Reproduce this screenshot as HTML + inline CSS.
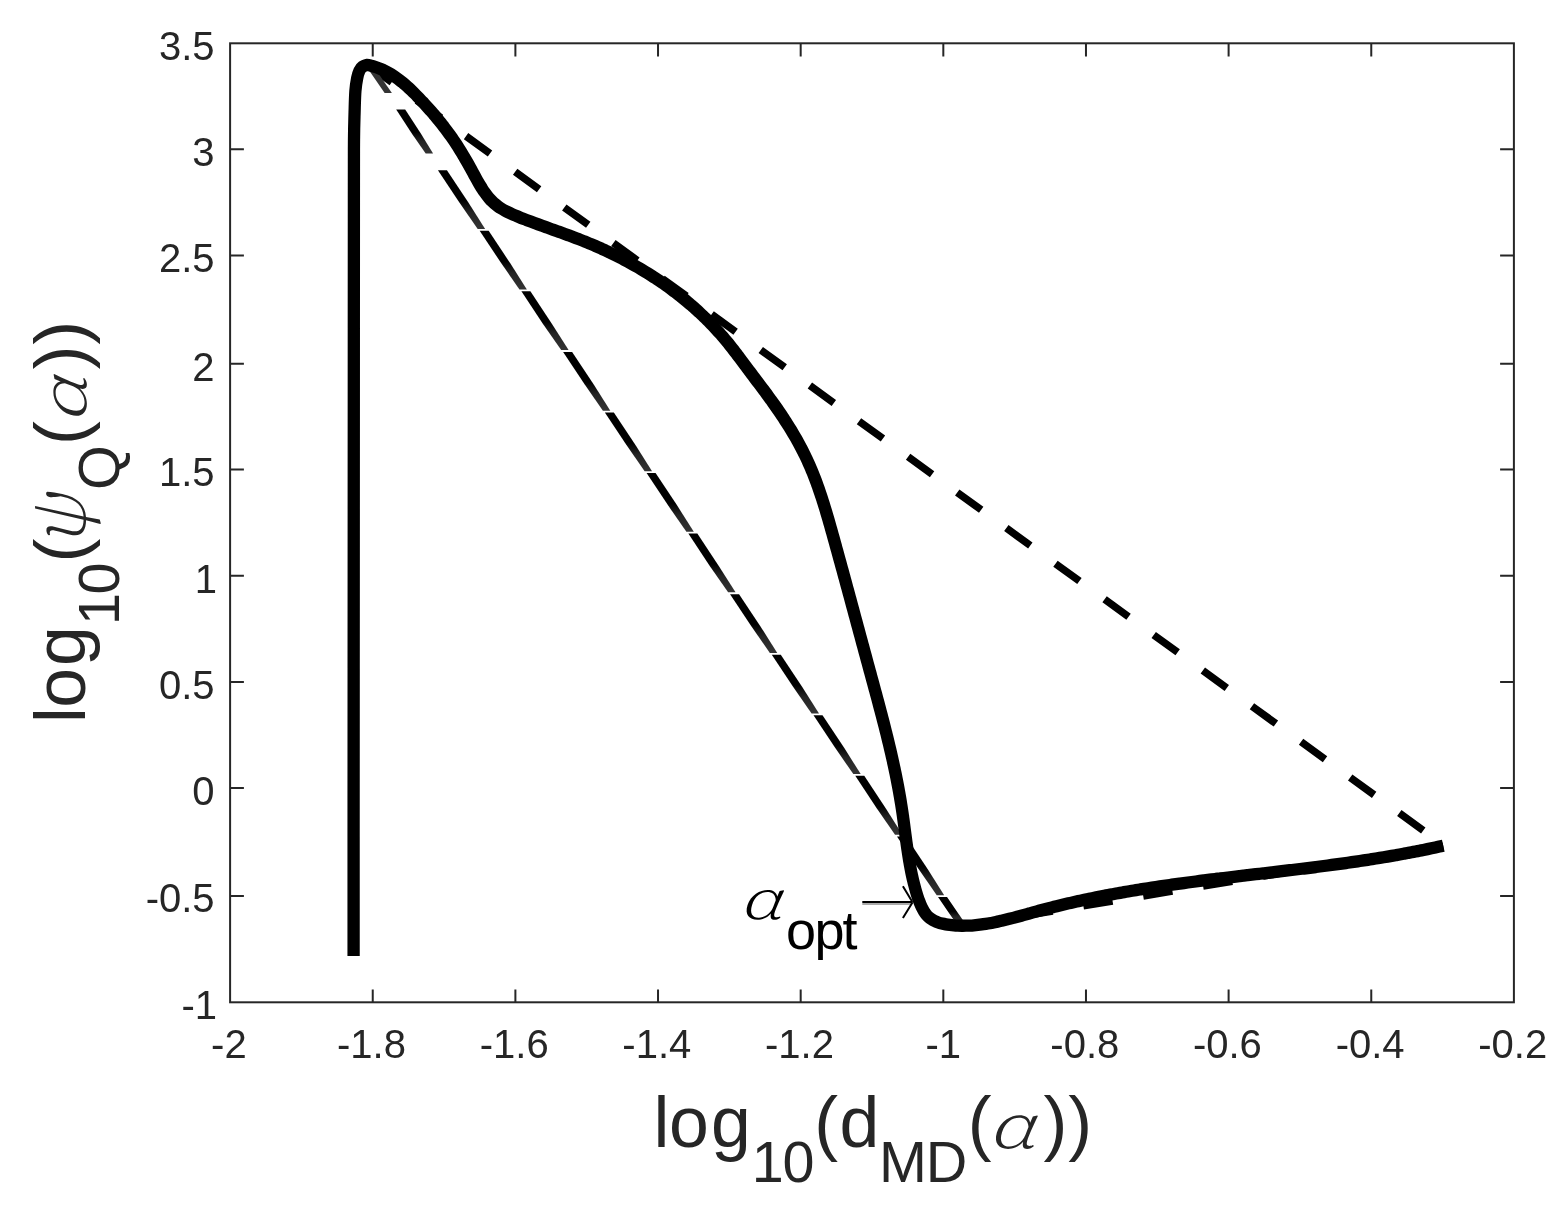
<!DOCTYPE html>
<html lang="en"><head><meta charset="utf-8"><title>L-curve plot</title>
<style>
html,body{margin:0;padding:0;background:#fff;}
body{width:1568px;height:1211px;overflow:hidden;}
svg{display:block;}
.t{font-family:"Liberation Sans",sans-serif;font-size:40.0px;fill:#262626;}
.l{font-family:"Liberation Sans",sans-serif;font-size:71.6px;fill:#262626;}
.s{font-size:57.5px;}
.g{font-family:"Noto Serif CJK SC","Liberation Serif",serif;font-style:italic;font-weight:200;}
.a{font-family:"Liberation Sans",sans-serif;font-size:54px;fill:#000;}
</style></head><body>
<svg width="1568" height="1211" viewBox="0 0 1568 1211">
<rect width="1568" height="1211" fill="#fff"/>
<g fill="none" stroke="#000">
<path d="M367.80,64.90 L1443.30,845.00" stroke-width="7.5" stroke-dasharray="29.6 31.08"/>
<path d="M962.00,926.00 L1443.30,846.20" stroke-width="7.5" stroke-dasharray="29.6 31.08" stroke-dashoffset="59.02"/>
</g>
<defs><linearGradient id="tg" x1="0" y1="0" x2="0" y2="1"><stop offset="0" stop-color="#000"/><stop offset="0.52" stop-color="#000"/><stop offset="0.72" stop-color="#242424"/><stop offset="1" stop-color="#343434"/></linearGradient></defs>
<g fill="url(#tg)">
<polygon fill="#343434" points="366.06,66.00 373.26,66.00 391.86,93.00 384.66,93.00"/>
<polygon points="396.20,109.60 405.20,109.60 420.97,133.69 433.08,153.40 425.68,153.40 411.97,133.69"/>
<polygon points="437.93,170.17 446.93,170.17 468.38,202.49 485.12,228.94 477.72,228.94 459.38,202.49"/>
<polygon points="479.66,230.74 488.66,230.74 510.11,263.06 526.86,289.51 519.46,289.51 501.11,263.06"/>
<polygon points="521.40,291.31 530.40,291.31 551.84,323.63 568.59,350.08 561.19,350.08 542.84,323.63"/>
<polygon points="563.13,351.88 572.13,351.88 593.58,384.20 610.32,410.65 602.92,410.65 584.58,384.20"/>
<polygon points="604.86,412.45 613.86,412.45 635.31,444.77 652.05,471.22 644.65,471.22 626.31,444.77"/>
<polygon points="646.59,473.02 655.59,473.02 677.04,505.34 693.79,531.79 686.39,531.79 668.04,505.34"/>
<polygon points="688.33,533.59 697.33,533.59 718.77,565.91 735.52,592.36 728.12,592.36 709.77,565.91"/>
<polygon points="730.06,594.16 739.06,594.16 760.51,626.48 777.25,652.93 769.85,652.93 751.51,626.48"/>
<polygon points="771.79,654.73 780.79,654.73 802.24,687.05 818.99,713.50 811.59,713.50 793.24,687.05"/>
<polygon points="813.53,715.30 822.53,715.30 843.97,747.62 860.72,774.07 853.32,774.07 834.97,747.62"/>
<polygon points="855.26,775.87 864.26,775.87 885.70,808.19 902.45,834.64 895.05,834.64 876.70,808.19"/>
<polygon points="896.99,836.44 905.99,836.44 927.44,868.76 944.18,895.21 936.78,895.21 918.44,868.76"/>
<polygon points="938.02,897.01 947.02,897.01 957.44,912.13 965.96,924.50 956.96,924.50 948.44,912.13"/>
</g>
<path d="M353.60,955.90 C353.60,929.92 353.58,859.32 353.60,800.00 C353.62,740.68 353.67,666.67 353.70,600.00 C353.73,533.33 353.77,466.67 353.80,400.00 C353.83,333.33 353.87,243.33 353.90,200.00 C353.93,156.67 353.88,154.67 354.00,140.00 C354.12,125.33 354.37,120.17 354.60,112.00 C354.83,103.83 354.97,96.67 355.40,91.00 C355.83,85.33 356.52,81.42 357.20,78.00 C357.88,74.58 358.62,72.38 359.50,70.50 C360.38,68.62 361.25,67.63 362.50,66.70 C363.75,65.77 366.25,65.20 367.00,64.90 C368.42,64.74 369.72,65.43 371.05,65.76 C372.38,66.08 373.68,66.45 374.97,66.86 C376.26,67.26 377.53,67.70 378.78,68.18 C380.03,68.66 381.26,69.17 382.47,69.72 C383.68,70.26 384.88,70.84 386.06,71.45 C387.24,72.06 388.40,72.70 389.54,73.36 C390.69,74.03 391.82,74.73 392.94,75.45 C394.05,76.17 395.15,76.91 396.24,77.68 C397.33,78.45 398.40,79.24 399.46,80.06 C400.52,80.87 401.57,81.70 402.61,82.55 C403.65,83.41 404.67,84.28 405.69,85.16 C406.70,86.05 407.70,86.95 408.70,87.87 C409.69,88.78 410.68,89.71 411.65,90.65 C412.63,91.59 413.60,92.54 414.56,93.50 C415.52,94.46 416.47,95.43 417.42,96.41 C418.36,97.38 419.30,98.36 420.23,99.35 C421.17,100.33 422.10,101.32 423.02,102.31 C423.94,103.30 424.86,104.30 425.77,105.30 C426.68,106.30 427.59,107.30 428.48,108.30 C429.38,109.31 430.28,110.32 431.16,111.34 C432.05,112.35 432.93,113.37 433.81,114.39 C434.68,115.41 435.55,116.44 436.41,117.47 C437.27,118.51 438.12,119.54 438.97,120.58 C439.81,121.62 440.65,122.67 441.49,123.72 C442.32,124.77 443.14,125.83 443.96,126.89 C444.78,127.95 445.59,129.01 446.39,130.08 C447.19,131.15 447.99,132.23 448.77,133.31 C449.56,134.39 450.34,135.48 451.11,136.57 C451.88,137.67 452.64,138.76 453.40,139.87 C454.15,140.97 454.89,142.08 455.63,143.20 C456.37,144.32 457.10,145.44 457.82,146.57 C458.54,147.69 459.25,148.83 459.96,149.97 C460.67,151.11 461.37,152.25 462.06,153.40 C462.76,154.55 463.45,155.71 464.13,156.87 C464.82,158.03 465.50,159.20 466.17,160.37 C466.85,161.55 467.52,162.73 468.19,163.91 C468.86,165.09 469.52,166.28 470.18,167.48 C470.85,168.67 471.51,169.87 472.16,171.08 C472.82,172.28 473.48,173.50 474.13,174.71 C474.79,175.92 475.45,177.13 476.12,178.34 C476.78,179.55 477.45,180.75 478.13,181.95 C478.81,183.14 479.50,184.33 480.20,185.50 C480.91,186.67 481.62,187.83 482.35,188.97 C483.08,190.10 483.83,191.23 484.60,192.32 C485.37,193.42 486.16,194.50 486.98,195.54 C487.79,196.58 488.63,197.60 489.50,198.59 C490.37,199.57 491.26,200.52 492.19,201.44 C493.12,202.35 494.08,203.22 495.07,204.06 C496.06,204.89 497.10,205.68 498.15,206.44 C499.21,207.19 500.31,207.91 501.42,208.60 C502.53,209.28 503.68,209.94 504.84,210.57 C505.99,211.20 507.18,211.80 508.38,212.38 C509.57,212.97 510.79,213.53 512.01,214.07 C513.23,214.62 514.47,215.15 515.71,215.67 C516.96,216.19 518.21,216.69 519.46,217.19 C520.71,217.70 521.96,218.19 523.21,218.68 C524.47,219.18 525.72,219.66 526.98,220.14 C528.23,220.63 529.49,221.10 530.75,221.58 C532.01,222.05 533.27,222.52 534.53,222.99 C535.79,223.46 537.05,223.92 538.32,224.39 C539.58,224.85 540.84,225.31 542.11,225.77 C543.37,226.23 544.63,226.68 545.90,227.14 C547.16,227.59 548.43,228.05 549.69,228.50 C550.96,228.95 552.22,229.41 553.49,229.86 C554.75,230.31 556.01,230.77 557.28,231.22 C558.54,231.68 559.81,232.13 561.07,232.59 C562.33,233.05 563.60,233.51 564.86,233.97 C566.12,234.43 567.38,234.89 568.64,235.35 C569.90,235.82 571.16,236.29 572.42,236.76 C573.67,237.23 574.93,237.71 576.19,238.19 C577.44,238.67 578.70,239.15 579.95,239.64 C581.20,240.12 582.45,240.62 583.70,241.11 C584.95,241.61 586.20,242.12 587.44,242.63 C588.69,243.13 589.93,243.65 591.17,244.17 C592.41,244.69 593.65,245.22 594.89,245.75 C596.12,246.29 597.36,246.82 598.59,247.37 C599.82,247.91 601.05,248.47 602.28,249.02 C603.51,249.58 604.73,250.14 605.95,250.71 C607.17,251.28 608.39,251.86 609.61,252.44 C610.83,253.02 612.04,253.60 613.25,254.20 C614.46,254.79 615.67,255.39 616.88,255.99 C618.08,256.60 619.28,257.21 620.48,257.83 C621.68,258.44 622.88,259.07 624.07,259.70 C625.27,260.33 626.46,260.96 627.64,261.60 C628.83,262.24 630.01,262.89 631.19,263.55 C632.37,264.20 633.55,264.86 634.72,265.52 C635.89,266.19 637.06,266.86 638.23,267.54 C639.39,268.22 640.55,268.90 641.71,269.59 C642.87,270.28 644.02,270.98 645.17,271.68 C646.32,272.38 647.47,273.09 648.61,273.80 C649.75,274.52 650.89,275.24 652.03,275.97 C653.16,276.69 654.29,277.43 655.42,278.17 C656.54,278.90 657.66,279.65 658.78,280.40 C659.90,281.15 661.01,281.91 662.12,282.67 C663.22,283.44 664.33,284.21 665.43,284.98 C666.52,285.76 667.62,286.54 668.71,287.33 C669.80,288.12 670.88,288.92 671.96,289.72 C673.04,290.52 674.12,291.32 675.19,292.14 C676.25,292.95 677.32,293.77 678.38,294.60 C679.44,295.42 680.49,296.26 681.54,297.09 C682.59,297.93 683.63,298.78 684.67,299.63 C685.71,300.48 686.74,301.34 687.77,302.20 C688.80,303.06 689.82,303.93 690.84,304.81 C691.85,305.69 692.87,306.57 693.87,307.46 C694.88,308.35 695.87,309.24 696.87,310.14 C697.86,311.04 698.85,311.95 699.83,312.87 C700.81,313.78 701.79,314.70 702.76,315.63 C703.73,316.55 704.69,317.49 705.65,318.43 C706.60,319.37 707.56,320.31 708.50,321.26 C709.45,322.22 710.38,323.18 711.32,324.14 C712.25,325.10 713.17,326.08 714.09,327.05 C715.01,328.03 715.92,329.02 716.83,330.01 C717.73,331.00 718.63,331.99 719.52,333.00 C720.42,334.00 721.30,335.01 722.18,336.03 C723.06,337.04 723.93,338.07 724.79,339.09 C725.66,340.12 726.51,341.16 727.36,342.20 C728.22,343.24 729.06,344.29 729.90,345.34 C730.74,346.39 731.57,347.45 732.40,348.51 C733.23,349.57 734.05,350.63 734.87,351.70 C735.70,352.77 736.51,353.84 737.33,354.91 C738.14,355.98 738.95,357.06 739.76,358.13 C740.57,359.21 741.37,360.29 742.18,361.36 C742.99,362.44 743.79,363.52 744.59,364.60 C745.40,365.68 746.20,366.75 747.00,367.83 C747.81,368.91 748.61,369.98 749.41,371.06 C750.22,372.13 751.03,373.20 751.83,374.27 C752.64,375.34 753.44,376.41 754.25,377.48 C755.06,378.55 755.87,379.62 756.67,380.69 C757.48,381.75 758.29,382.82 759.09,383.89 C759.90,384.96 760.70,386.03 761.50,387.10 C762.31,388.17 763.11,389.24 763.91,390.31 C764.71,391.39 765.51,392.46 766.31,393.54 C767.10,394.61 767.90,395.69 768.69,396.78 C769.48,397.86 770.27,398.94 771.06,400.03 C771.84,401.12 772.62,402.21 773.40,403.31 C774.18,404.41 774.96,405.51 775.73,406.61 C776.50,407.71 777.27,408.82 778.04,409.93 C778.80,411.04 779.56,412.15 780.31,413.27 C781.07,414.39 781.82,415.51 782.56,416.64 C783.31,417.76 784.05,418.89 784.79,420.03 C785.52,421.16 786.25,422.30 786.97,423.44 C787.70,424.58 788.42,425.72 789.13,426.87 C789.84,428.02 790.55,429.17 791.25,430.32 C791.95,431.48 792.64,432.64 793.33,433.80 C794.01,434.96 794.69,436.13 795.36,437.30 C796.04,438.47 796.70,439.64 797.36,440.82 C798.02,442.00 798.67,443.18 799.31,444.37 C799.95,445.55 800.58,446.74 801.21,447.93 C801.83,449.13 802.45,450.32 803.06,451.52 C803.67,452.72 804.27,453.93 804.86,455.13 C805.45,456.34 806.03,457.55 806.60,458.77 C807.17,459.98 807.74,461.20 808.29,462.43 C808.84,463.65 809.38,464.88 809.92,466.11 C810.45,467.34 810.98,468.57 811.49,469.81 C812.01,471.05 812.52,472.29 813.02,473.53 C813.52,474.77 814.01,476.02 814.50,477.27 C814.98,478.52 815.46,479.77 815.93,481.03 C816.40,482.28 816.86,483.54 817.31,484.80 C817.77,486.06 818.22,487.33 818.66,488.59 C819.10,489.86 819.54,491.13 819.97,492.40 C820.40,493.67 820.83,494.94 821.25,496.22 C821.67,497.49 822.08,498.77 822.49,500.05 C822.90,501.32 823.31,502.61 823.71,503.89 C824.11,505.17 824.51,506.45 824.90,507.74 C825.29,509.02 825.68,510.31 826.07,511.60 C826.45,512.89 826.83,514.18 827.21,515.47 C827.59,516.76 827.97,518.05 828.34,519.34 C828.72,520.64 829.09,521.93 829.46,523.22 C829.83,524.52 830.19,525.81 830.56,527.11 C830.93,528.41 831.29,529.70 831.65,531.00 C832.02,532.30 832.38,533.59 832.74,534.89 C833.10,536.19 833.46,537.49 833.83,538.78 C834.19,540.08 834.55,541.38 834.91,542.68 C835.27,543.97 835.63,545.27 835.99,546.57 C836.35,547.87 836.70,549.17 837.06,550.47 C837.42,551.76 837.78,553.06 838.14,554.36 C838.50,555.66 838.85,556.96 839.21,558.26 C839.57,559.56 839.92,560.86 840.28,562.15 C840.64,563.45 840.99,564.75 841.35,566.05 C841.71,567.35 842.06,568.65 842.42,569.95 C842.77,571.25 843.13,572.55 843.48,573.85 C843.84,575.15 844.19,576.45 844.55,577.75 C844.90,579.05 845.25,580.35 845.61,581.65 C845.96,582.95 846.32,584.25 846.67,585.55 C847.02,586.84 847.38,588.14 847.73,589.44 C848.08,590.74 848.44,592.04 848.79,593.34 C849.14,594.64 849.49,595.94 849.85,597.24 C850.20,598.54 850.55,599.84 850.90,601.14 C851.25,602.44 851.61,603.74 851.96,605.04 C852.31,606.34 852.66,607.64 853.01,608.94 C853.37,610.24 853.72,611.54 854.07,612.84 C854.42,614.14 854.77,615.44 855.12,616.74 C855.47,618.04 855.82,619.34 856.18,620.64 C856.53,621.94 856.88,623.24 857.23,624.54 C857.58,625.84 857.93,627.14 858.28,628.44 C858.63,629.74 858.98,631.04 859.33,632.34 C859.69,633.64 860.04,634.94 860.39,636.24 C860.74,637.54 861.09,638.84 861.44,640.13 C861.79,641.43 862.14,642.73 862.49,644.03 C862.84,645.33 863.20,646.63 863.55,647.93 C863.90,649.23 864.25,650.52 864.60,651.82 C864.95,653.12 865.30,654.42 865.66,655.72 C866.01,657.02 866.36,658.31 866.71,659.61 C867.06,660.91 867.41,662.21 867.77,663.51 C868.12,664.80 868.47,666.10 868.82,667.40 C869.17,668.70 869.53,669.99 869.88,671.29 C870.23,672.59 870.59,673.89 870.94,675.18 C871.29,676.48 871.64,677.78 872.00,679.07 C872.35,680.37 872.70,681.67 873.05,682.96 C873.41,684.26 873.76,685.56 874.11,686.85 C874.46,688.15 874.81,689.44 875.16,690.74 C875.52,692.04 875.87,693.33 876.22,694.63 C876.57,695.93 876.91,697.23 877.26,698.52 C877.61,699.82 877.96,701.12 878.31,702.41 C878.65,703.71 879.00,705.01 879.34,706.31 C879.69,707.60 880.03,708.90 880.37,710.20 C880.72,711.50 881.06,712.80 881.40,714.09 C881.74,715.39 882.08,716.69 882.41,717.99 C882.75,719.29 883.09,720.59 883.42,721.89 C883.76,723.19 884.09,724.49 884.42,725.79 C884.75,727.09 885.08,728.39 885.41,729.69 C885.74,730.99 886.06,732.30 886.39,733.60 C886.71,734.90 887.03,736.20 887.35,737.51 C887.67,738.81 887.99,740.11 888.31,741.42 C888.62,742.72 888.94,744.03 889.25,745.33 C889.56,746.64 889.87,747.95 890.17,749.25 C890.48,750.56 890.78,751.87 891.08,753.18 C891.39,754.48 891.68,755.79 891.98,757.10 C892.28,758.41 892.57,759.72 892.86,761.03 C893.15,762.34 893.44,763.66 893.72,764.97 C894.01,766.28 894.29,767.59 894.57,768.91 C894.85,770.22 895.12,771.54 895.39,772.85 C895.66,774.17 895.93,775.49 896.20,776.80 C896.46,778.12 896.73,779.44 896.98,780.76 C897.24,782.08 897.50,783.40 897.75,784.72 C898.00,786.04 898.25,787.36 898.49,788.69 C898.74,790.01 898.98,791.34 899.21,792.66 C899.45,793.99 899.68,795.31 899.91,796.64 C900.14,797.97 900.36,799.30 900.58,800.63 C900.80,801.96 901.02,803.29 901.23,804.62 C901.44,805.96 901.65,807.29 901.85,808.62 C902.05,809.96 902.25,811.29 902.45,812.63 C902.64,813.97 902.83,815.31 903.02,816.65 C903.20,817.99 903.39,819.33 903.57,820.67 C903.75,822.01 903.93,823.35 904.11,824.69 C904.29,826.04 904.46,827.38 904.64,828.72 C904.81,830.07 904.99,831.41 905.17,832.75 C905.34,834.10 905.52,835.44 905.70,836.78 C905.87,838.13 906.05,839.47 906.23,840.82 C906.42,842.16 906.60,843.50 906.79,844.85 C906.97,846.19 907.16,847.53 907.36,848.88 C907.55,850.22 907.75,851.56 907.95,852.90 C908.15,854.24 908.36,855.58 908.57,856.92 C908.79,858.26 909.01,859.60 909.23,860.93 C909.46,862.27 909.69,863.60 909.93,864.94 C910.17,866.27 910.42,867.60 910.67,868.94 C910.93,870.27 911.20,871.60 911.47,872.92 C911.74,874.25 912.03,875.58 912.32,876.90 C912.62,878.22 912.92,879.55 913.24,880.87 C913.55,882.18 913.88,883.50 914.22,884.82 C914.56,886.13 914.91,887.44 915.27,888.75 C915.63,890.06 916.01,891.37 916.40,892.68 C916.79,893.98 917.19,895.29 917.62,896.58 C918.04,897.88 918.47,899.18 918.93,900.45 C919.39,901.73 919.87,902.99 920.39,904.22 C920.90,905.45 921.44,906.67 922.03,907.83 C922.62,908.99 923.24,910.13 923.91,911.20 C924.59,912.28 925.30,913.31 926.08,914.27 C926.86,915.23 927.68,916.14 928.58,916.97 C929.47,917.80 930.43,918.55 931.45,919.23 C932.47,919.91 933.55,920.51 934.68,921.05 C935.81,921.59 936.99,922.06 938.21,922.48 C939.42,922.90 940.68,923.26 941.96,923.58 C943.23,923.89 944.55,924.16 945.87,924.39 C947.18,924.62 948.53,924.80 949.86,924.97 C951.20,925.13 952.54,925.26 953.88,925.37 C955.22,925.48 956.56,925.56 957.89,925.62 C959.23,925.68 960.56,925.71 961.90,925.73 C963.23,925.74 964.56,925.73 965.89,925.70 C967.22,925.67 968.55,925.62 969.88,925.55 C971.20,925.48 972.53,925.39 973.86,925.28 C975.18,925.18 976.51,925.05 977.83,924.90 C979.15,924.76 980.48,924.60 981.80,924.42 C983.12,924.25 984.44,924.05 985.76,923.85 C987.08,923.64 988.40,923.42 989.71,923.18 C991.03,922.95 992.35,922.70 993.67,922.44 C994.98,922.18 996.30,921.91 997.61,921.63 C998.93,921.35 1000.24,921.05 1001.56,920.75 C1002.87,920.45 1004.18,920.14 1005.50,919.82 C1006.81,919.50 1008.12,919.18 1009.44,918.84 C1010.75,918.51 1012.06,918.17 1013.37,917.83 C1014.69,917.48 1016.00,917.13 1017.31,916.78 C1018.62,916.42 1019.93,916.06 1021.24,915.70 C1022.55,915.34 1023.87,914.98 1025.18,914.62 C1026.49,914.25 1027.80,913.89 1029.11,913.52 C1030.42,913.15 1031.73,912.79 1033.05,912.42 C1034.36,912.06 1035.67,911.70 1036.98,911.34 C1038.29,910.98 1039.61,910.62 1040.92,910.26 C1042.23,909.91 1043.55,909.56 1044.86,909.21 C1046.17,908.87 1047.49,908.52 1048.80,908.18 C1050.12,907.84 1051.43,907.51 1052.75,907.18 C1054.06,906.84 1055.38,906.51 1056.69,906.19 C1058.01,905.86 1059.33,905.54 1060.64,905.22 C1061.96,904.90 1063.28,904.59 1064.59,904.27 C1065.91,903.96 1067.23,903.65 1068.54,903.34 C1069.86,903.04 1071.18,902.73 1072.50,902.43 C1073.82,902.13 1075.14,901.84 1076.45,901.54 C1077.77,901.25 1079.09,900.96 1080.41,900.67 C1081.73,900.38 1083.05,900.10 1084.37,899.82 C1085.69,899.53 1087.01,899.25 1088.33,898.98 C1089.65,898.70 1090.97,898.43 1092.30,898.16 C1093.62,897.89 1094.94,897.62 1096.26,897.35 C1097.58,897.09 1098.90,896.83 1100.23,896.57 C1101.55,896.31 1102.87,896.05 1104.20,895.79 C1105.52,895.54 1106.84,895.29 1108.16,895.04 C1109.49,894.79 1110.81,894.54 1112.14,894.30 C1113.46,894.05 1114.78,893.81 1116.11,893.57 C1117.43,893.33 1118.76,893.09 1120.08,892.86 C1121.41,892.62 1122.73,892.39 1124.06,892.16 C1125.38,891.93 1126.71,891.70 1128.03,891.47 C1129.36,891.24 1130.69,891.02 1132.01,890.80 C1133.34,890.58 1134.66,890.36 1135.99,890.14 C1137.32,889.92 1138.64,889.70 1139.97,889.49 C1141.30,889.28 1142.63,889.06 1143.95,888.85 C1145.28,888.64 1146.61,888.44 1147.94,888.23 C1149.26,888.02 1150.59,887.82 1151.92,887.62 C1153.25,887.41 1154.58,887.21 1155.91,887.01 C1157.23,886.81 1158.56,886.62 1159.89,886.42 C1161.22,886.22 1162.55,886.03 1163.88,885.84 C1165.21,885.65 1166.54,885.45 1167.87,885.26 C1169.20,885.07 1170.53,884.89 1171.86,884.70 C1173.19,884.51 1174.52,884.33 1175.85,884.14 C1177.18,883.96 1178.51,883.78 1179.84,883.60 C1181.17,883.42 1182.50,883.24 1183.83,883.06 C1185.16,882.88 1186.49,882.70 1187.82,882.52 C1189.15,882.35 1190.48,882.17 1191.82,882.00 C1193.15,881.83 1194.48,881.65 1195.81,881.48 C1197.14,881.31 1198.47,881.14 1199.80,880.97 C1201.14,880.80 1202.47,880.63 1203.80,880.46 C1205.13,880.29 1206.46,880.13 1207.80,879.96 C1209.13,879.79 1210.46,879.63 1211.79,879.46 C1213.13,879.30 1214.46,879.14 1215.79,878.97 C1217.12,878.81 1218.46,878.65 1219.79,878.49 C1221.12,878.32 1222.45,878.16 1223.79,878.00 C1225.12,877.84 1226.45,877.68 1227.78,877.52 C1229.12,877.36 1230.45,877.20 1231.78,877.05 C1233.12,876.89 1234.45,876.73 1235.78,876.57 C1237.12,876.41 1238.45,876.26 1239.78,876.10 C1241.12,875.94 1242.45,875.79 1243.78,875.63 C1245.12,875.47 1246.45,875.32 1247.78,875.16 C1249.12,875.01 1250.45,874.85 1251.78,874.69 C1253.12,874.54 1254.45,874.38 1255.78,874.23 C1257.12,874.07 1258.45,873.92 1259.78,873.76 C1261.12,873.60 1262.45,873.45 1263.78,873.29 C1265.12,873.14 1266.45,872.98 1267.79,872.83 C1269.12,872.67 1270.45,872.51 1271.79,872.36 C1273.12,872.20 1274.45,872.05 1275.79,871.89 C1277.12,871.73 1278.45,871.57 1279.79,871.42 C1281.12,871.26 1282.46,871.10 1283.79,870.94 C1285.12,870.79 1286.46,870.63 1287.79,870.47 C1289.12,870.31 1290.46,870.15 1291.79,869.99 C1293.12,869.83 1294.46,869.67 1295.79,869.51 C1297.12,869.35 1298.46,869.18 1299.79,869.02 C1301.12,868.86 1302.46,868.70 1303.79,868.53 C1305.12,868.37 1306.46,868.20 1307.79,868.04 C1309.12,867.87 1310.45,867.70 1311.79,867.54 C1313.12,867.37 1314.45,867.20 1315.79,867.03 C1317.12,866.86 1318.45,866.69 1319.78,866.52 C1321.12,866.35 1322.45,866.18 1323.78,866.01 C1325.11,865.83 1326.45,865.66 1327.78,865.48 C1329.11,865.31 1330.44,865.13 1331.77,864.95 C1333.11,864.78 1334.44,864.60 1335.77,864.42 C1337.10,864.24 1338.43,864.05 1339.77,863.87 C1341.10,863.69 1342.43,863.50 1343.76,863.32 C1345.09,863.13 1346.42,862.95 1347.75,862.76 C1349.09,862.57 1350.42,862.38 1351.75,862.19 C1353.08,861.99 1354.41,861.80 1355.74,861.61 C1357.07,861.41 1358.40,861.22 1359.73,861.02 C1361.06,860.82 1362.39,860.62 1363.72,860.42 C1365.05,860.22 1366.38,860.01 1367.71,859.81 C1369.04,859.60 1370.37,859.40 1371.70,859.19 C1373.03,858.98 1374.36,858.77 1375.69,858.55 C1377.02,858.34 1378.35,858.13 1379.68,857.91 C1381.00,857.69 1382.33,857.48 1383.66,857.26 C1384.99,857.03 1386.32,856.81 1387.65,856.59 C1388.97,856.36 1390.30,856.14 1391.63,855.91 C1392.96,855.68 1394.29,855.45 1395.61,855.21 C1396.94,854.98 1398.27,854.74 1399.59,854.50 C1400.92,854.26 1402.25,854.02 1403.57,853.78 C1404.90,853.54 1406.23,853.29 1407.55,853.04 C1408.88,852.80 1410.21,852.55 1411.53,852.29 C1412.86,852.04 1414.18,851.78 1415.51,851.53 C1416.83,851.27 1418.16,851.01 1419.48,850.74 C1420.81,850.48 1422.13,850.21 1423.46,849.94 C1424.78,849.68 1426.10,849.40 1427.43,849.13 C1428.75,848.86 1430.07,848.58 1431.40,848.30 C1432.72,848.02 1434.04,847.73 1435.37,847.45 C1436.69,847.16 1438.01,846.87 1439.33,846.58 C1440.66,846.29 1442.64,845.84 1443.30,845.70" fill="none" stroke="#000" stroke-width="12.3" stroke-linejoin="round"/>
<g fill="none" stroke="#262626" stroke-width="2">
<rect x="230.10" y="43.30" width="1283.80" height="959.00"/>
<path d="M372.74,1002.30 v-12.8 M372.74,43.30 v13.2 M515.39,1002.30 v-12.8 M515.39,43.30 v13.2 M658.03,1002.30 v-12.8 M658.03,43.30 v13.2 M800.68,1002.30 v-12.8 M800.68,43.30 v13.2 M943.32,1002.30 v-12.8 M943.32,43.30 v13.2 M1085.97,1002.30 v-12.8 M1085.97,43.30 v13.2 M1228.61,1002.30 v-12.8 M1228.61,43.30 v13.2 M1371.26,1002.30 v-12.8 M1371.26,43.30 v13.2 M230.10,149.30 h13.8 M1513.90,149.30 h-13.8 M230.10,255.50 h13.8 M1513.90,255.50 h-13.8 M230.10,363.70 h13.8 M1513.90,363.70 h-13.8 M230.10,469.60 h13.8 M1513.90,469.60 h-13.8 M230.10,575.80 h13.8 M1513.90,575.80 h-13.8 M230.10,682.00 h13.8 M1513.90,682.00 h-13.8 M230.10,788.10 h13.8 M1513.90,788.10 h-13.8 M230.10,896.00 h13.8 M1513.90,896.00 h-13.8"/>
</g>
<g class="t" text-anchor="middle">
<text x="228.9" y="1058.1">-2</text>
<text x="371.5" y="1058.1">-1.8</text>
<text x="514.2" y="1058.1">-1.6</text>
<text x="656.8" y="1058.1">-1.4</text>
<text x="799.5" y="1058.1">-1.2</text>
<text x="943.3" y="1058.1">-1</text>
<text x="1084.8" y="1058.1">-0.8</text>
<text x="1227.4" y="1058.1">-0.6</text>
<text x="1370.1" y="1058.1">-0.4</text>
<text x="1512.7" y="1058.1">-0.2</text>
</g>
<g class="t" text-anchor="end">
<text x="217.0" y="1018.5">-1</text>
<text x="214.6" y="912.2">-0.5</text>
<text x="214.6" y="804.9">0</text>
<text x="214.6" y="698.8">0.5</text>
<text x="217.0" y="592.6">1</text>
<text x="214.6" y="486.4">1.5</text>
<text x="214.6" y="380.5">2</text>
<text x="214.6" y="272.3">2.5</text>
<text x="214.6" y="166.1">3</text>
<text x="214.6" y="59.5">3.5</text>
</g>
<g transform="translate(0,1147.20)">
<text class="l"><tspan x="653.40 668.90 710.95" y="0">log</tspan><tspan class="s" x="751.80 782.55" y="34.4">10</tspan><tspan x="814.20 839.50" y="0">(d</tspan><tspan class="s" x="879.00 925.75" y="34.4">MD</tspan><tspan x="967.65" y="0">(</tspan></text>
<text class="l g" transform="translate(988.30,0.50) scale(1.250,1)" style="font-size:62.5px">α</text>
<text class="l"><tspan x="1043.40 1068.30" y="0">))</tspan></text>
</g>
<g transform="translate(85.00,723.20) rotate(-90)">
<text class="l"><tspan x="0.15 15.40 57.20" y="0">log</tspan><tspan class="s" x="98.20 128.65" y="34.4">10</tspan><tspan x="160.65" y="0">(</tspan></text>
<text class="l g" transform="translate(177.60,0.30) scale(0.890,1)" style="font-size:74.5px">ψ</text>
<text class="l"><tspan class="s" x="233.15" y="34.4">Q</tspan><tspan x="278.30" y="0">(</tspan></text>
<text class="l g" transform="translate(299.60,0.50) scale(1.250,1)" style="font-size:62.5px">α</text>
<text class="l"><tspan x="353.65 378.45" y="0">))</tspan></text>
</g>
<text class="l g" transform="translate(739.70,918.60) scale(1.260,1)" style="font-size:55.5px;fill:#000">α</text>
<text class="a" x="786 814.5 842.6" y="948.8">opt</text>
<path d="M862.3,903.9 H912" fill="none" stroke="#aaa" stroke-width="2"/>
<path d="M862.3,901.9 H912.5 M902.9,886.2 L912.4,902 M902.9,918.1 L912.6,902.2" fill="none" stroke="#000" stroke-width="2"/>
</svg>
</body></html>
